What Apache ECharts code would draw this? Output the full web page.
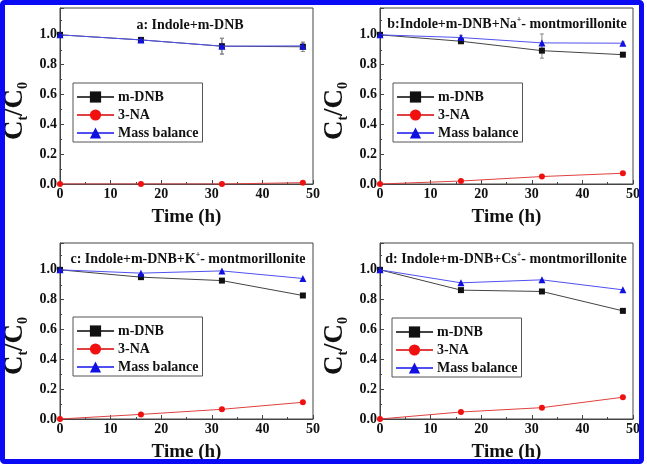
<!DOCTYPE html>
<html><head><meta charset="utf-8">
<script src="https://cdn.jsdelivr.net/npm/echarts@6/dist/echarts.min.js"></script>
<style>html,body{margin:0;padding:0;background:#fff}#c{width:647px;height:469px}</style>
</head><body><div id="c"></div>
<script>
// ---- data ----
const times = [0, 16, 32, 48];
const seriesNames = ['m-DNB', '3-NA', 'Mass balance'];
const panelTitles = [
  '{t|a: Indole+m-DNB}',
  '{t|b:Indole+m-DNB+Na}{p|+}{t|- montmorillonite}',
  '{t|c: Indole+m-DNB+K}{p|+}{t|- montmorillonite}',
  '{t|d: Indole+m-DNB+Cs}{p|+}{t|- montmorillonite}'
];
const mDNB_a = [1.0, 0.966, 0.924, 0.92];
const na3_a = [0, 0, 0, 0.009];
const mass_a = [1.0, 0.966, 0.924, 0.926];
const mDNBErr_a = [0, 0.008, 0.053, 0.032];
const massErr_a = [0, 0.008, 0.053, 0.02];

const mDNB_b = [1.0, 0.957, 0.894, 0.867];
const na3_b = [0, 0.02, 0.05, 0.072];
const mass_b = [1.0, 0.982, 0.946, 0.944];
const mDNBErr_b = [0, 0.01, 0.05, 0.008];
const massErr_b = [0, 0.015, 0.06, 0.008];

const mDNB_c = [1.0, 0.951, 0.928, 0.828];
const na3_c = [0, 0.031, 0.065, 0.112];
const mass_c = [1.0, 0.978, 0.993, 0.942];
const mDNBErr_c = [0, 0, 0, 0];
const massErr_c = [0, 0, 0, 0];

const mDNB_d = [1.0, 0.864, 0.855, 0.725];
const na3_d = [0, 0.047, 0.076, 0.146];
const mass_d = [1.0, 0.913, 0.933, 0.866];
const mDNBErr_d = [0, 0, 0, 0];
const massErr_d = [0, 0, 0, 0];

const panels = [
  {m: mDNB_a, n: na3_a, b: mass_a, me: mDNBErr_a, be: massErr_a},
  {m: mDNB_b, n: na3_b, b: mass_b, me: mDNBErr_b, be: massErr_b},
  {m: mDNB_c, n: na3_c, b: mass_c, me: mDNBErr_c, be: massErr_c},
  {m: mDNB_d, n: na3_d, b: mass_d, me: mDNBErr_d, be: massErr_d}
];

// ---- layout ----
const FONT = 'Liberation Serif';
const grids = [
  {left: 60, right: 334, top: 8, bottom: 285},
  {left: 380, right: 14, top: 8, bottom: 285},
  {left: 60, right: 334, top: 243, bottom: 50},
  {left: 380, right: 14, top: 243, bottom: 50}
];
const titlePos = [
  {left: 185, top: 12}, {left: 502, top: 11}, {left: 183, top: 246}, {left: 501, top: 246}
];
const legendPos = [
  {left: 73, top: 83}, {left: 393, top: 83}, {left: 73, top: 317}, {left: 392, top: 318}
];

const chart = echarts.init(document.getElementById('c'));
const option = {
  animation: false,
  backgroundColor: '#fff',
  graphic: [{
    type: 'rect', shape: {x: 2.5, y: 2.5, width: 639, height: 459, r: 2},
    style: {fill: 'none', stroke: '#0a0af5', lineWidth: 5}, z: 100
  }],
  title: [], legend: [], grid: [], xAxis: [], yAxis: [], series: []
};

function errItem(color) {
  return function (params, api) {
    const x = api.value(0), y = api.value(1), e = api.value(2);
    if (!e) return null;
    const hi = api.coord([x, y + e]), lo = api.coord([x, y - e]);
    const w = 2;
    const st = {stroke: color, lineWidth: 1};
    return {type: 'group', children: [
      {type: 'line', shape: {x1: hi[0], y1: hi[1], x2: lo[0], y2: lo[1]}, style: st},
      {type: 'line', shape: {x1: hi[0] - w, y1: hi[1], x2: hi[0] + w, y2: hi[1]}, style: st},
      {type: 'line', shape: {x1: lo[0] - w, y1: lo[1], x2: lo[0] + w, y2: lo[1]}, style: st}
    ]};
  };
}

panels.forEach((p, i) => {
  option.grid.push(Object.assign({show: true, borderColor: '#444', borderWidth: 1, containLabel: false}, grids[i]));
  option.title.push({
    text: panelTitles[i], left: titlePos[i].left, top: titlePos[i].top, textAlign: 'center',
    textStyle: {rich: {
      t: {fontFamily: FONT, fontWeight: 'bold', fontSize: 14, color: '#111', lineHeight: 17},
      p: {fontFamily: FONT, fontWeight: 'bold', fontSize: 8, color: '#111', lineHeight: 8, verticalAlign: 'top'}
    }}
  });
  option.legend.push({
    data: seriesNames, orient: 'vertical', left: legendPos[i].left, top: legendPos[i].top,
    itemWidth: 37, itemHeight: 14, itemGap: 4, padding: [7, 4, 2, 3],
    borderColor: '#555', borderWidth: 1, backgroundColor: '#fff',
    selectedMode: false,
    textStyle: {fontFamily: FONT, fontWeight: 'bold', fontSize: 14, color: '#111', padding: [0, 0, 0, -1]}
  });
  option.xAxis.push({
    gridIndex: i, type: 'value', min: 0, max: 50, interval: 10,
    name: 'Time (h)', nameLocation: 'middle', nameGap: 24,
    nameTextStyle: {fontFamily: FONT, fontWeight: 'bold', fontSize: 19, color: '#111'},
    axisLine: {show: true, lineStyle: {color: '#444'}},
    axisTick: {show: true, inside: true, length: 4, lineStyle: {color: '#444'}},
    minorTick: {show: true, splitNumber: 2, length: 2, lineStyle: {color: '#444'}},
    splitLine: {show: false},
    axisLabel: {fontFamily: FONT, fontWeight: 'bold', fontSize: 14, color: '#111', margin: 3}
  });
  option.yAxis.push({
    gridIndex: i, type: 'value', min: 0, max: 1.18, interval: 0.2,
    name: '{c|C}{s|t}{c|/C}{s|0}', nameLocation: 'middle', nameGap: 30,
    nameTextStyle: {padding: [0, 30, 0, 0], rich: {
      c: {fontFamily: FONT, fontWeight: 'bold', fontSize: 27, color: '#111', lineHeight: 30},
      s: {fontFamily: FONT, fontWeight: 'bold', fontSize: 14, color: '#111', lineHeight: 12, verticalAlign: 'bottom'}
    }},
    axisLine: {show: true, lineStyle: {color: '#444'}},
    axisTick: {show: true, inside: true, length: 4, lineStyle: {color: '#444'}},
    minorTick: {show: true, splitNumber: 2, length: 2, lineStyle: {color: '#444'}},
    splitLine: {show: false},
    axisLabel: {fontFamily: FONT, fontWeight: 'bold', fontSize: 14, color: '#111', margin: 3,
      formatter: v => (v > 1.01 ? '' : v.toFixed(1))}
  });
  const mk = arr => times.map((t, k) => [t, arr[k]]);
  const mkE = (arr, e) => times.map((t, k) => [t, arr[k], e[k]]);
  option.series.push(
    {type: 'custom', name: 'errM' + i, xAxisIndex: i, yAxisIndex: i, renderItem: errItem('#888'), data: mkE(p.m, p.me), z: 1},
    {type: 'custom', name: 'errB' + i, xAxisIndex: i, yAxisIndex: i, renderItem: errItem('#888'), data: mkE(p.b, p.be), z: 1},
    {type: 'line', name: 'm-DNB', xAxisIndex: i, yAxisIndex: i, data: mk(p.m), symbol: 'rect', symbolSize: 6,
      itemStyle: {color: '#111'}, lineStyle: {color: '#444', width: 1}, z: 2},
    {type: 'line', name: '3-NA', xAxisIndex: i, yAxisIndex: i, data: mk(p.n), symbol: 'circle', symbolSize: 6,
      itemStyle: {color: '#f01010'}, lineStyle: {color: '#e04040', width: 1}, z: 3},
    {type: 'line', name: 'Mass balance', xAxisIndex: i, yAxisIndex: i, data: mk(p.b), symbol: 'triangle', symbolSize: 7,
      itemStyle: {color: '#1010e0'}, lineStyle: {color: '#5050f0', width: 1}, z: 4}
  );
});
chart.setOption(option);
</script></body></html>
